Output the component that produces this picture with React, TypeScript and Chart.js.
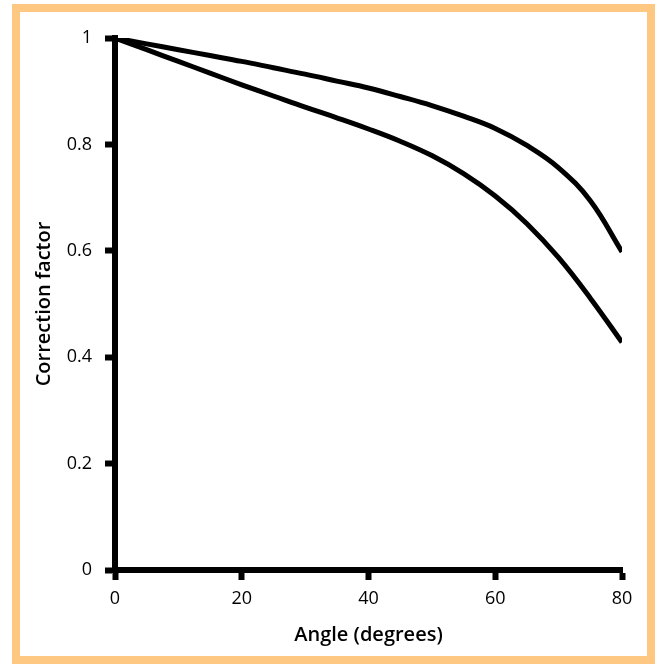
import React, { useEffect, useRef } from "react";
import { Chart, registerables } from "chart.js";

Chart.register(...registerables);

const angles = [0, 5, 10, 15, 20, 25, 30, 35, 40, 45, 50, 55, 60, 65, 70, 75, 80];
const upperCurve = [1, 0.989, 0.978, 0.967, 0.956, 0.944, 0.932, 0.919, 0.906, 0.890, 0.873, 0.853, 0.830, 0.798, 0.756, 0.694, 0.598];
const lowerCurve = [1, 0.978, 0.956, 0.934, 0.912, 0.891, 0.870, 0.850, 0.829, 0.806, 0.779, 0.745, 0.703, 0.651, 0.587, 0.511, 0.428];
const xTicks = [0, 20, 40, 60, 80];
const yTicks = [0, 0.2, 0.4, 0.6, 0.8, 1];
const xTitle = "Angle (degrees)";
const yTitle = "Correction factor";

const FONT = "'Open Sans', sans-serif";

export default function App() {
  const ref = useRef<HTMLCanvasElement | null>(null);
  useEffect(() => {
    if (!ref.current) return;
    const mk = (vals: number[]) => angles.map((a, i) => ({ x: a, y: vals[i] }));
    const chart = new Chart(ref.current, {
      type: "line",
      data: {
        datasets: [
          { data: mk(upperCurve), borderColor: "#000", borderWidth: 5, pointRadius: 0, tension: 0.4, borderCapStyle: "butt" },
          { data: mk(lowerCurve), borderColor: "#000", borderWidth: 5, pointRadius: 0, tension: 0.4, borderCapStyle: "butt" },
        ],
      },
      options: {
        animation: false,
        responsive: false,
        devicePixelRatio: 1,
        layout: { padding: { top: 38, right: 33, left: 0, bottom: 0 } },
        plugins: { legend: { display: false }, tooltip: { enabled: false } },
        scales: {
          x: {
            type: "linear",
            min: 0,
            max: 80,
            afterBuildTicks: (s: any) => { s.ticks = xTicks.map((v) => ({ value: v })); },
            afterFit: (s: any) => { s.height = 94; },
            grid: { drawOnChartArea: false, drawTicks: true, tickLength: 10, tickWidth: 6, tickColor: "#000" },
            border: { display: true, color: "#000", width: 6 },
            ticks: { color: "#000", font: { family: FONT, size: 18 }, padding: 8, maxRotation: 0 },
            title: { display: true, text: xTitle, color: "#000", font: { family: FONT, size: 20, weight: 600 }, padding: { top: 2, bottom: 17 } },
          },
          y: {
            type: "linear",
            min: 0,
            max: 1,
            afterBuildTicks: (s: any) => { s.ticks = yTicks.map((v) => ({ value: v })); },
            afterFit: (s: any) => { s.width = 115; },
            grid: { drawOnChartArea: false, drawTicks: true, tickLength: 10, tickWidth: 6, tickColor: "#000" },
            border: { display: true, color: "#000", width: 6 },
            ticks: { color: "#000", font: { family: FONT, size: 18 }, padding: 13, callback: (v: any) => String(v) },
            title: { display: true, text: yTitle, color: "#000", font: { family: FONT, size: 20, weight: 600 }, padding: { top: 32, bottom: 0 } },
          },
        },
      },
    } as any);
    return () => chart.destroy();
  }, []);
  return (
    <div style={{ position: "absolute", left: 0, top: 0, width: 655, height: 664, background: "#fff" }}>
      <div
        style={{
          position: "absolute",
          left: 12,
          top: 4,
          width: 643,
          height: 660,
          boxSizing: "border-box",
          border: "8px solid #FFC882",
        }}
      />
      <canvas ref={ref} width={655} height={664} style={{ position: "absolute", left: 0, top: 0 }} />
    </div>
  );
}
